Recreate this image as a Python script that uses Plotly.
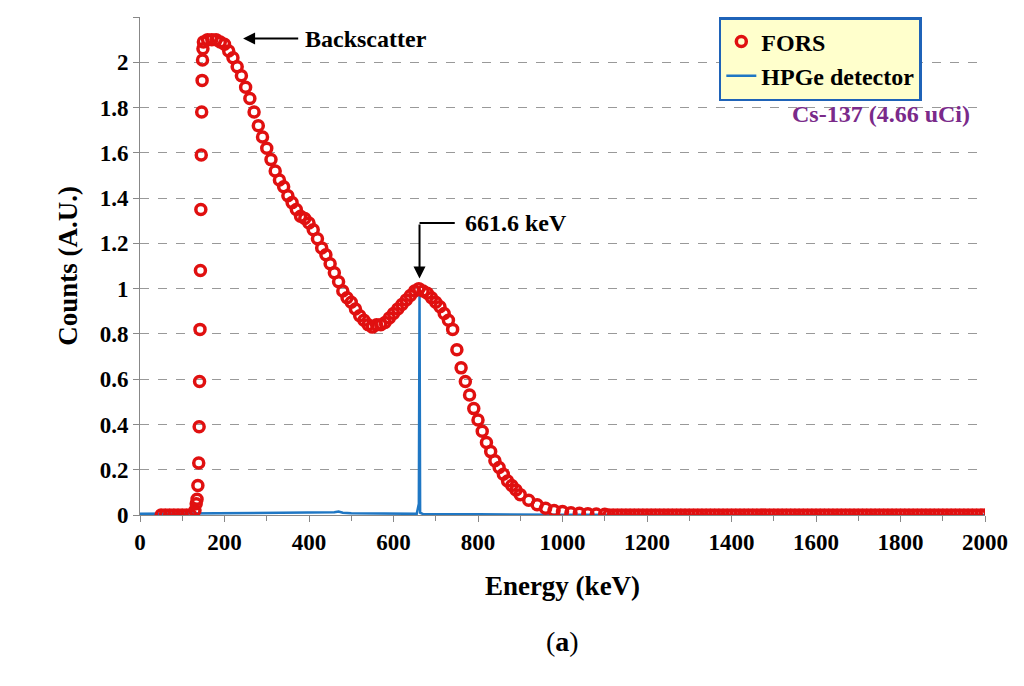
import plotly.graph_objects as go

fors_x = [50,60,70,80,90,100,110,120,130,133,135,137,139,140,141,142,143,144,145,146,147,148,149,150,
          160,170,180,190,200,210,220,230,240,250,260,270,280,290,300,310,320,330,340,350,360,370,380,390,400,
          410,420,430,440,450,460,470,480,490,500,510,520,530,540,550,560,570,580,590,600,610,620,630,640,650,660,
          670,680,690,700,710,720,730,740,750,760,770,780,790,800,810,820,830,840,850,860,870,880,890,900,
          920,940,960,980,1000,1020,1040,1060,1080,1100]
fors_y = [0,0,0,0,0,0,0,0,0.02,0.05,0.07,0.13,0.23,0.39,0.59,0.82,1.08,1.35,1.59,1.78,1.92,2.01,2.06,2.09,
          2.10,2.10,2.10,2.09,2.08,2.05,2.02,1.98,1.94,1.89,1.84,1.78,1.72,1.67,1.62,1.57,1.52,1.48,1.45,1.41,1.38,1.35,1.32,1.31,1.29,
          1.26,1.22,1.18,1.15,1.11,1.07,1.03,0.99,0.96,0.94,0.91,0.88,0.86,0.84,0.83,0.84,0.84,0.85,0.87,0.89,0.91,0.93,0.95,0.97,0.99,1.00,
          0.99,0.98,0.96,0.94,0.92,0.89,0.86,0.82,0.73,0.65,0.59,0.53,0.47,0.42,0.37,0.32,0.28,0.24,0.21,0.18,0.15,0.13,0.11,0.09,
          0.065,0.045,0.03,0.02,0.015,0.01,0.008,0.006,0.004,0.003]
fors_tail_x = list(range(1110, 2001, 10))
fors_tail_y = [0.0] * len(fors_tail_x)

hpge_x = [0, 100, 200, 300, 400, 460, 470, 480, 500, 600, 655, 660, 661.6, 663, 670, 800, 1000, 2000]
hpge_y = [0.005, 0.006, 0.01, 0.01, 0.01, 0.012, 0.015, 0.01, 0.008, 0.006, 0.005, 0.05, 0.97, 0.01, 0.004, 0.003, 0.001, 0]

font = "Liberation Serif"
fig = go.Figure()
fig.add_trace(go.Scatter(x=hpge_x, y=hpge_y, mode="lines", name="<b>HPGe detector</b>",
                         line=dict(color="#1f77c4", width=2.5)))
fig.add_trace(go.Scatter(x=fors_x + fors_tail_x, y=fors_y + fors_tail_y, mode="markers", name="<b>FORS</b>",
                         marker=dict(symbol="circle-open", size=10, color="#e01010", line=dict(width=3.5))))
fig.update_layout(
    width=1024, height=686, paper_bgcolor="white", plot_bgcolor="white",
    margin=dict(l=132, r=47, t=9, b=179),
    font=dict(family=font, size=24, color="black"),
    legend=dict(x=0.685, y=1.0, xanchor="left", yanchor="top", bgcolor="#ffffcc",
                bordercolor="#1f63b8", borderwidth=2.5, font=dict(size=24, family=font),
                traceorder="reversed"),
    xaxis=dict(range=[0, 2000], dtick=200, showgrid=False, showline=True, linecolor="#888",
               ticks="outside", ticklen=6, tickcolor="#888", tickfont=dict(size=23, family=font),
               title=dict(text="<b>Energy (keV)</b>", font=dict(size=27, family=font), standoff=22),
               tickprefix="<b>", ticksuffix="</b>", zeroline=False,
               minor=dict(dtick=100, ticks="outside", ticklen=5, tickcolor="#888")),
    yaxis=dict(range=[0, 2.2], dtick=0.2, showgrid=True, gridcolor="#999", griddash="dash",
               showline=True, linecolor="#888", ticks="outside", ticklen=6, tickcolor="#888",
               tickfont=dict(size=23, family=font), tickprefix="<b>", ticksuffix="</b>",
               title=dict(text="<b>Counts (A.U.)</b>", font=dict(size=27, family=font), standoff=14),
               zeroline=False),
)
fig.add_annotation(x=244, y=2.105, ax=378, ay=2.105, axref="x", ayref="y", xref="x", yref="y",
                   showarrow=True, arrowhead=2, arrowsize=1.2, arrowwidth=2, arrowcolor="black", text="")
fig.add_annotation(x=385, y=2.105, text="<b>Backscatter</b>", showarrow=False, xanchor="left",
                   font=dict(size=24, family=font))
fig.add_annotation(x=661.6, y=1.045, ax=661.6, ay=1.29, axref="x", ayref="y", xref="x", yref="y",
                   showarrow=True, arrowhead=2, arrowsize=1.2, arrowwidth=2, arrowcolor="black", text="")
fig.add_shape(type="line", x0=661.6, x1=745, y0=1.29, y1=1.29, line=dict(color="black", width=2))
fig.add_annotation(x=765, y=1.29, text="<b>661.6 keV</b>", showarrow=False, xanchor="left",
                   font=dict(size=24, family=font))
fig.add_annotation(x=0.985, y=0.835, xref="paper", yref="paper", text="<b>Cs-137 (4.66 uCi)</b>",
                   showarrow=False, xanchor="right", font=dict(size=24, family=font, color="#7a2a8a"))
fig.add_annotation(x=0.5, y=-0.29, xref="paper", yref="paper", text="(<b>a</b>)", showarrow=False,
                   font=dict(size=28, family=font))
fig.write_html("out.html")
